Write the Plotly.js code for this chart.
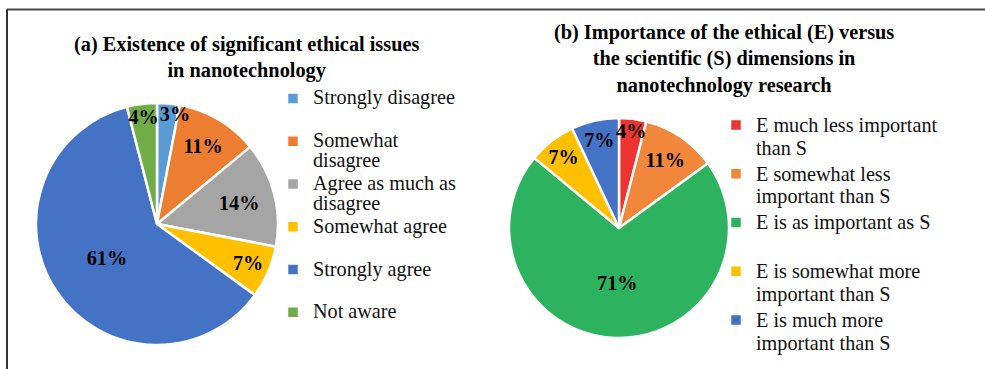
<!DOCTYPE html>
<html>
<head>
<meta charset="utf-8">
<script src="https://cdn.plot.ly/plotly-3.0.1.min.js"></script>
<style>html,body{margin:0;padding:0;background:#fff;}#chart{width:985px;height:369px;}</style>
</head>
<body>
<div id="chart"></div>
<script>
// Panel (a)
const titleA = "(a) Existence of significant ethical issues<br>in nanotechnology";
const labelsA = ["Strongly disagree", "Somewhat disagree", "Agree as much as disagree", "Somewhat agree", "Strongly agree", "Not aware"];
const legendTextA = ["Strongly disagree<br>&nbsp;", "Somewhat<br>disagree", "Agree as much as<br>disagree", "Somewhat agree<br>&nbsp;", "Strongly agree<br>&nbsp;", "Not aware<br>&nbsp;"];
const valuesA = [3, 11, 14, 7, 61, 4];
const colorsA = ["#5B9BD5", "#ED7D31", "#A5A5A5", "#FFC000", "#4472C4", "#70AD47"];
const labelTemplateA = ["&nbsp;&nbsp;&nbsp;%{value}%", "%{value}%", "%{value}%", "%{value}%", "%{value}%", "%{value}%"];

// Panel (b)
const titleB = "(b) Importance of the ethical (E) versus<br>the scientific (S) dimensions in<br>nanotechnology research";
const labelsB = ["E much less important than S", "E somewhat less important than S", "E is as important as S", "E is somewhat more important than S", "E is much more important than S"];
const legendTextB = ["E much less important<br>than S", "E somewhat less<br>important than S", "E is as important as S<br>&nbsp;", "E is somewhat more<br>important than S", "E is much more<br>important than S"];
const valuesB = [4, 11, 71, 7, 7];
const colorsB = ["#EE3333", "#F0873A", "#2DB35F", "#FFC000", "#4472C4"];

const SERIF = "Liberation Serif, Times New Roman, serif";
const GLYPH = 20.2;
const span = s => '<span style="font-size:' + GLYPH + 'px">' + s.split('<br>').join('</span><br><span style="font-size:' + GLYPH + 'px">') + '</span>';

const domA = {x: [36 / 985, 278 / 985], y: [24 / 369, 266 / 369]};
const domB = {x: [509 / 985, 729 / 985], y: [31 / 369, 251 / 369]};

const base = {
  type: 'pie', sort: false, direction: 'clockwise', rotation: 0,
  textinfo: 'none', hoverinfo: 'none'
};
const overlay = {
  type: 'pie', sort: false, direction: 'clockwise', rotation: 0,
  textposition: 'inside', insidetextorientation: 'horizontal',
  textfont: {family: SERIF, size: GLYPH, color: '#000', weight: 'bold'},
  hoverinfo: 'none', showlegend: false
};

// slices
const sliceA = Object.assign({}, base, {
  labels: legendTextA.map(span), values: valuesA,
  marker: {colors: colorsA, line: {color: '#fff', width: 2.5}},
  domain: domA, legend: 'legend'
});
const sliceB = Object.assign({}, base, {
  labels: legendTextB.map(span), values: valuesB,
  marker: {colors: colorsB, line: {color: '#fff', width: 2.5}},
  domain: domB, legend: 'legend2'
});
// data labels drawn above all slices
const textA = Object.assign({}, overlay, {
  labels: labelsA, values: valuesA, texttemplate: labelTemplateA,
  marker: {colors: labelsA.map(() => 'rgba(0,0,0,0)'), line: {width: 0}},
  domain: domA
});
const textB = Object.assign({}, overlay, {
  labels: labelsB, values: valuesB, texttemplate: '%{value}%',
  marker: {colors: labelsB.map(() => 'rgba(0,0,0,0)'), line: {width: 0}},
  domain: domB
});

const layout = {
  width: 985,
  height: 369,
  margin: {l: 0, r: 0, t: 0, b: 0},
  paper_bgcolor: '#fff',
  showlegend: true,
  uniformtext: {minsize: GLYPH, mode: 'show'},
  legend: {
    x: 273 / 985, xanchor: 'left', y: 1 - 82 / 369, yanchor: 'top',
    font: {family: SERIF, size: 15.3, color: '#111'},
    valign: 'top', traceorder: 'normal', bgcolor: 'rgba(0,0,0,0)'
  },
  legend2: {
    x: 716 / 985, xanchor: 'left', y: 1 - 107 / 369, yanchor: 'top',
    font: {family: SERIF, size: 17.6, color: '#111'},
    valign: 'top', traceorder: 'normal', bgcolor: 'rgba(0,0,0,0)'
  },
  annotations: [
    {text: titleA, xref: 'paper', yref: 'paper', x: 246 / 985, y: 1 - 57 / 369, xanchor: 'center', yanchor: 'middle',
     showarrow: false, font: {family: SERIF, size: 20.3, color: '#000', weight: 'bold'}},
    {text: titleB, xref: 'paper', yref: 'paper', x: 724 / 985, y: 1 - 59 / 369, xanchor: 'center', yanchor: 'middle',
     showarrow: false, font: {family: SERIF, size: 20.3, color: '#000', weight: 'bold'}}
  ],
  shapes: [
    {type: 'line', xref: 'paper', yref: 'paper', x0: 7 / 985, x1: 1, y0: 1 - 9.5 / 369, y1: 1 - 9.5 / 369, line: {color: '#4a4a4a', width: 2}},
    {type: 'line', xref: 'paper', yref: 'paper', x0: 7 / 985, x1: 7 / 985, y0: 1 - 9.5 / 369, y1: 0, line: {color: '#333', width: 2}}
  ]
};

Plotly.newPlot('chart', [sliceA, sliceB, textA, textB], layout, {staticPlot: true, displayModeBar: false});
</script>
</body>
</html>
